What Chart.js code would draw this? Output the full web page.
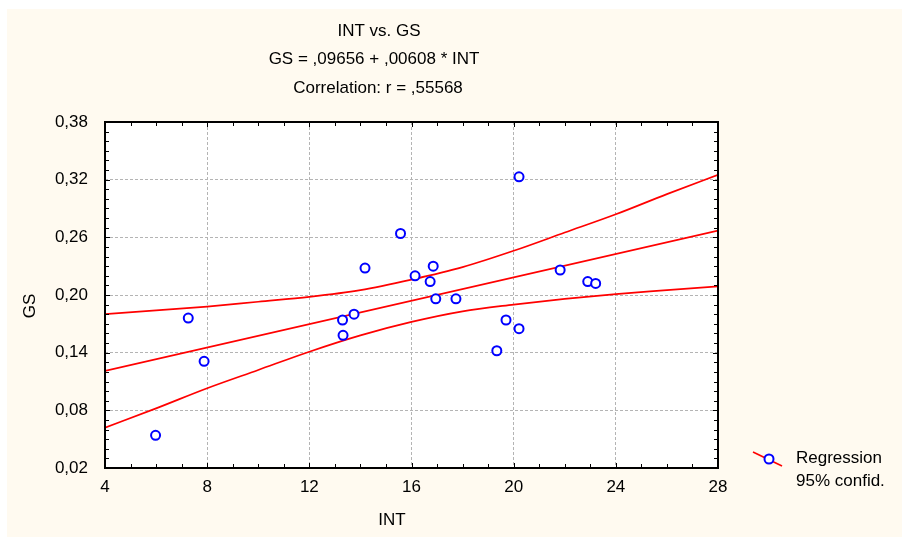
<!DOCTYPE html>
<html>
<head>
<meta charset="utf-8">
<script src="https://cdn.jsdelivr.net/npm/chart.js@4.4.1/dist/chart.umd.min.js"></script>
<style>
  html, body { margin: 0; padding: 0; background: #ffffff; }
  #wrap { width: 902px; height: 537px; }
</style>
</head>
<body>
<div id="wrap"><canvas id="c" width="902" height="537"></canvas></div>
<script>
// INT vs. GS scatter with linear fit and 95% confidence band

const titleLines = ["INT vs. GS", "GS = ,09656 + ,00608 * INT", "Correlation: r = ,55568"];
const legendLines = ["Regression", "95% confid."];
const xTitle = "INT";
const yTitle = "GS";

const intValues = [5.98, 7.26, 7.88, 13.30, 13.32, 13.75, 14.18, 15.57, 16.14, 16.73,
  16.85, 16.95, 17.74, 19.34, 19.70, 20.21, 20.21, 21.82, 22.90, 23.21];
const gsValues = [0.054, 0.176, 0.131, 0.174, 0.158, 0.180, 0.228, 0.264, 0.220, 0.214,
  0.230, 0.196, 0.196, 0.142, 0.174, 0.165, 0.323, 0.226, 0.214, 0.212];

const fitX = [4, 28];
const fitY = [0.121, 0.267];

const bandX = [4, 6, 8, 10, 12, 14, 16, 18, 20, 22, 24, 26, 28];
const bandUpper = [0.180, 0.184, 0.188, 0.193, 0.198, 0.205, 0.216, 0.229, 0.246, 0.265, 0.284, 0.305, 0.325];
const bandLower = [0.062, 0.082, 0.103, 0.122, 0.141, 0.158, 0.172, 0.183, 0.190, 0.196, 0.201, 0.205, 0.209];

const xTicks = [4, 8, 12, 16, 20, 24, 28];
const yTicks = [0.02, 0.08, 0.14, 0.20, 0.26, 0.32, 0.38];

const FONT = "'Liberation Sans', Arial, sans-serif";
const FSIZE = 17;
const CREAM = "#fffaf0";

const pairs = (xs, ys) => xs.map((x, i) => ({ x, y: ys[i] }));

const frameBgPlugin = {
  id: "frameBg",
  beforeDraw(chart) {
    const { ctx, chartArea: a, width, height } = chart;
    ctx.save();
    ctx.fillStyle = "#ffffff";
    ctx.fillRect(0, 0, width, height);
    ctx.fillStyle = CREAM;
    ctx.fillRect(7, 9, width - 7, height - 9);
    ctx.fillStyle = "#ffffff";
    ctx.fillRect(a.left, a.top, a.right - a.left, a.bottom - a.top);
    ctx.restore();
  },
  afterDraw(chart) {
    const { ctx, chartArea: a, scales } = chart;
    ctx.save();
    ctx.strokeStyle = "#000000";
    // minor / major ticks, inward on all four sides
    ctx.lineWidth = 1;
    ctx.beginPath();
    for (let v = 4; v <= 28; v++) {
      const x = Math.round(scales.x.getPixelForValue(v)) + 0.5;
      const len = v % 4 === 0 ? 5 : 4;
      ctx.moveTo(x, a.bottom); ctx.lineTo(x, a.bottom - len);
      ctx.moveTo(x, a.top); ctx.lineTo(x, a.top + len);
    }
    for (let k = 0; k <= 36; k++) {
      const y = Math.round(scales.y.getPixelForValue(0.02 + k * 0.01)) + 0.5;
      const len = k % 6 === 0 ? 5 : 4;
      ctx.moveTo(a.left, y); ctx.lineTo(a.left + len, y);
      ctx.moveTo(a.right, y); ctx.lineTo(a.right - len, y);
    }
    ctx.stroke();
    ctx.lineWidth = 2;
    ctx.strokeRect(a.left, a.top, a.right - a.left, a.bottom - a.top);

    ctx.fillStyle = "#000000";
    ctx.font = FSIZE + "px " + FONT;
    ctx.textAlign = "center";
    ctx.textBaseline = "middle";
    // titles
    ctx.fillText(titleLines[0], 379, 31);
    ctx.fillText(titleLines[1], 374, 59);
    ctx.fillText(titleLines[2], 378, 88);
    // axis titles
    ctx.fillText(xTitle, 392, 520);
    ctx.save();
    ctx.translate(30, 306);
    ctx.rotate(-Math.PI / 2);
    ctx.fillText(yTitle, 0, 0);
    ctx.restore();

    // legend
    ctx.strokeStyle = "#ff0000";
    ctx.lineWidth = 1.6;
    ctx.beginPath();
    ctx.moveTo(753, 452);
    ctx.lineTo(782, 466);
    ctx.stroke();
    ctx.strokeStyle = "#0000ff";
    ctx.fillStyle = "#ffffff";
    ctx.lineWidth = 2;
    ctx.beginPath();
    ctx.arc(769, 459, 4.5, 0, Math.PI * 2);
    ctx.fill();
    ctx.stroke();
    ctx.fillStyle = "#000000";
    ctx.textAlign = "left";
    ctx.fillText(legendLines[0], 796, 458);
    ctx.fillText(legendLines[1], 796, 481);
    ctx.restore();
  }
};

const redLine = (data) => ({
  type: "line",
  data,
  borderColor: "#ff0000",
  borderWidth: 1.7,
  pointRadius: 0,
  fill: false,
  cubicInterpolationMode: "monotone",
  order: 2,
});

new Chart(document.getElementById("c"), {
  type: "scatter",
  data: {
    datasets: [
      {
        label: "GS",
        data: pairs(intValues, gsValues),
        pointStyle: "circle",
        pointRadius: 4.5,
        pointBorderWidth: 2,
        pointBorderColor: "#0000ff",
        pointBackgroundColor: "#ffffff",
        order: 0,
      },
      redLine(pairs(fitX, fitY)),
      redLine(pairs(bandX, bandUpper)),
      redLine(pairs(bandX, bandLower)),
    ],
  },
  options: {
    responsive: false,
    animation: false,
    layout: { padding: { left: 15, right: 184, top: 122, bottom: 0 } },
    plugins: { legend: { display: false }, tooltip: { enabled: false }, title: { display: false } },
    scales: {
      x: {
        type: "linear", min: 4, max: 28,
        afterBuildTicks: (s) => { s.ticks = xTicks.map((v) => ({ value: v })); },
        afterFit: (s) => { s.height = 69; },
        ticks: { color: "#000000", padding: 9, font: { family: FONT, size: FSIZE }, callback: (v) => String(v) },
        grid: { color: "#b4b4b4", lineWidth: 1, drawTicks: false },
        border: { display: false, dash: [3, 2] },
      },
      y: {
        type: "linear", min: 0.02, max: 0.38,
        afterBuildTicks: (s) => { s.ticks = yTicks.map((v) => ({ value: v })); },
        afterFit: (s) => { s.width = 90; },
        ticks: { color: "#000000", padding: 17, font: { family: FONT, size: FSIZE },
          callback: (v) => v.toFixed(2).replace(".", ",") },
        grid: { color: "#b4b4b4", lineWidth: 1, drawTicks: false },
        border: { display: false, dash: [3, 2] },
      },
    },
  },
  plugins: [frameBgPlugin],
});
</script>
</body>
</html>
